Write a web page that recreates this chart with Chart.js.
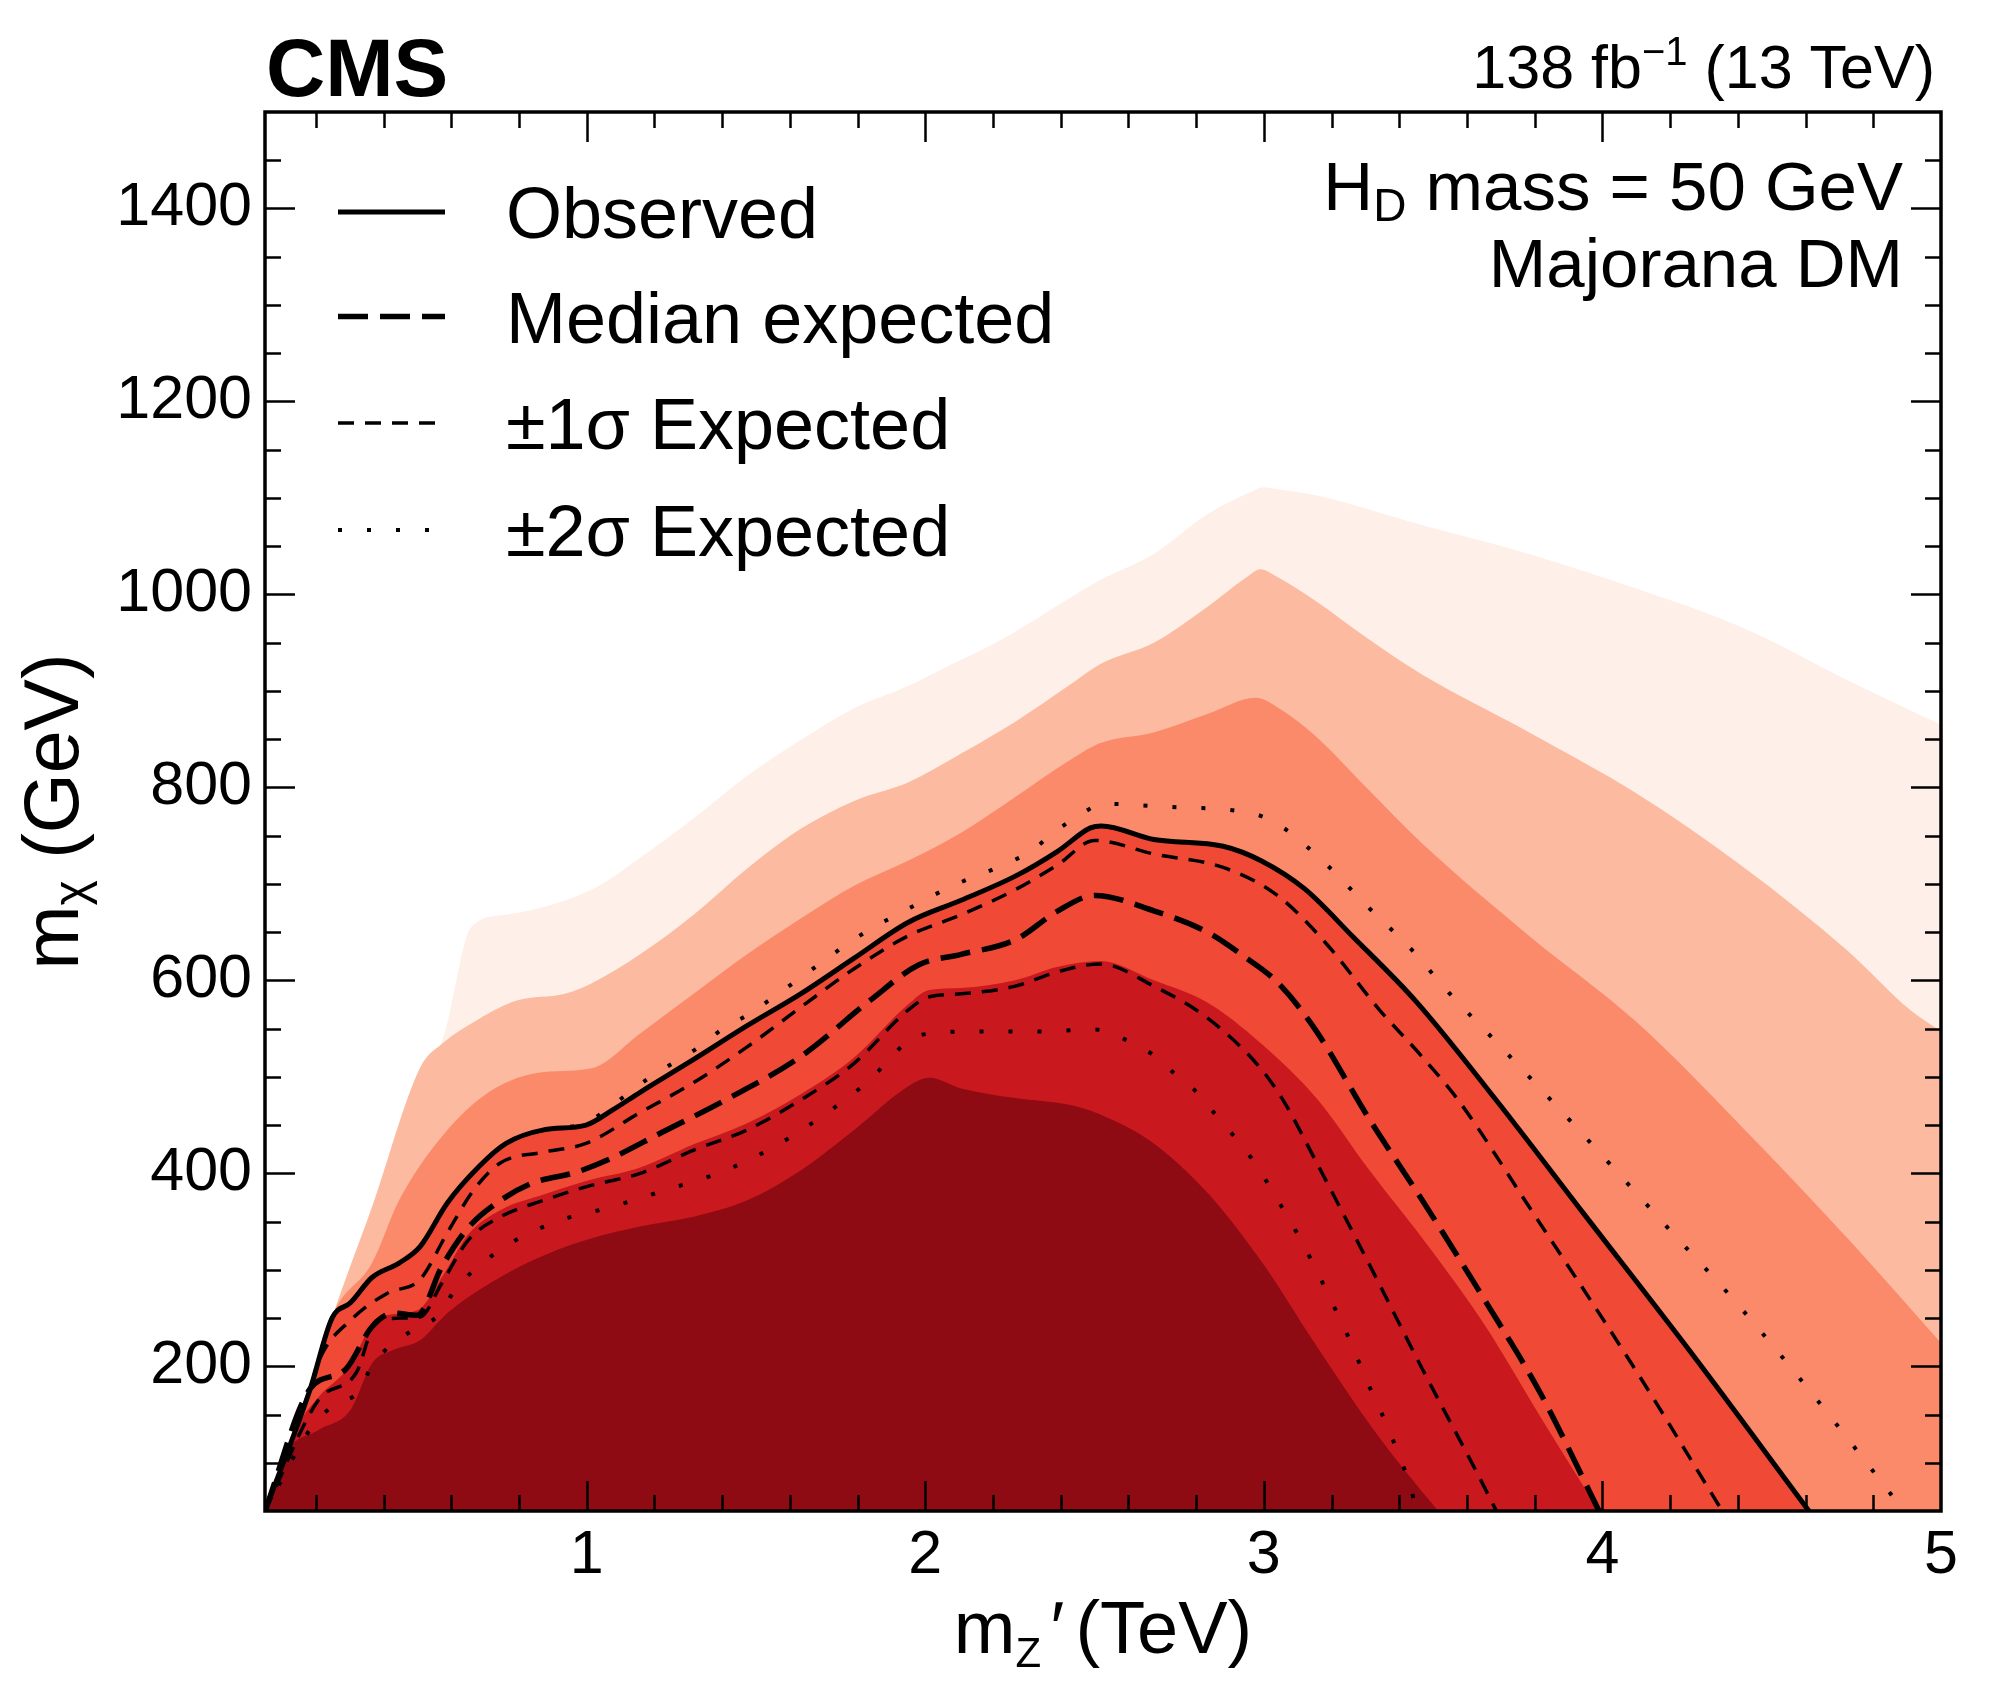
<!DOCTYPE html>
<html>
<head>
<meta charset="utf-8">
<script src="https://cdn.jsdelivr.net/npm/chart.js@4.4.1/dist/chart.umd.min.js"></script>
<style>
html,body{margin:0;padding:0;background:#ffffff;}
canvas{display:block;}
</style>
</head>
<body>
<canvas id="c" width="1997" height="1685" style="width:1997px;height:1685px"></canvas>
<script>
// ---------------- data ----------------
const xTickValues = [1, 2, 3, 4, 5];
const yTickValues = [200, 400, 600, 800, 1000, 1200, 1400];

// Observed limit
const obsX = [0.05,0.184,0.248,0.303,0.366,0.446,0.508,0.588,0.682,0.762,0.873,0.998,1.078,1.158,1.316,1.474,1.632,1.79,1.949,2.106,2.266,2.392,2.488,2.52,2.675,2.88,2.992,3.12,3.261,3.45,3.686,3.943,4.26,4.61];
const obsY = [50,177,250,266,292,307,324,369,407,431,445,450,466,484,518,553,586,623,660,683,708,734,758,760,746,739,724,695,646,578,476,359,215,50];

// Median expected
const expX = [0.05,0.184,0.286,0.366,0.43,0.5,0.572,0.651,0.746,0.841,0.968,1.063,1.22,1.41,1.632,1.84,1.98,2.106,2.266,2.392,2.5,2.675,2.833,2.945,3.04,3.15,3.31,3.468,3.657,3.817,3.99];
const expY = [50,177,196,241,255,253,303,344,372,390,401,414,442,476,521,580,616,627,642,672,688,672,650,624,598,550,457,372,266,172,50];

// +1 sigma expected
const exp1UpX = [0.05,0.184,0.208,0.31,0.413,0.508,0.588,0.667,0.746,0.873,0.998,1.158,1.316,1.474,1.632,1.79,1.949,2.106,2.266,2.392,2.5,2.675,2.88,3.04,3.182,3.34,3.467,3.574,3.784,4.1,4.354];
const exp1UpY = [50,177,205,250,276,290,338,383,411,422,431,463,494,531,572,612,646,668,694,720,745,731,717,688,639,570,521,476,365,195,50];

// -1 sigma expected
const exp1DnX = [0.05,0.208,0.319,0.382,0.508,0.572,0.651,0.746,0.873,0.998,1.158,1.316,1.474,1.632,1.79,1.949,2.012,2.106,2.266,2.392,2.517,2.675,2.833,2.99,3.06,3.15,3.308,3.467,3.626,3.687];
const exp1DnY = [50,165,193,248,251,286,331,355,372,386,400,424,445,476,514,569,583,586,594,609,617,594,561,509,474,415,308,198,92,50];

// +2 sigma expected
const exp2UpX = [0.05,0.184,0.248,0.303,0.366,0.446,0.508,0.588,0.682,0.762,0.873,0.998,1.039,1.181,1.332,1.403,1.474,1.625,1.759,1.837,1.917,2.075,2.233,2.313,2.375,2.455,2.526,2.705,2.976,3.054,3.182,3.308,3.436,3.547,3.673,3.914,4.21,4.39,4.616,4.833,4.89];
const exp2UpY = [50,177,250,266,292,307,324,369,407,431,445,452,461,498,531,550,564,601,635,653,668,697,720,734,752,771,783,780,772,759,721,676,632,587,541,451,337,268,173,76,50];

// -2 sigma expected
const exp2DnX = [0.05,0.192,0.256,0.327,0.366,0.43,0.5,0.556,0.62,0.746,0.904,1.071,1.237,1.403,1.561,1.711,1.846,1.908,1.98,2.155,2.328,2.502,2.588,2.668,2.731,2.802,2.857,2.913,2.969,3.016,3.06,3.106,3.146,3.184,3.222,3.258,3.293,3.328,3.365,3.396,3.428,3.452];
const exp2DnY = [50,139,160,174,201,224,240,251,283,321,349,365,383,402,429,463,500,524,543,547,547,549,539,524,505,484,461,438,413,387,361,333,306,279,251,224,194,166,138,110,81,50];

// Filled contour bands (upper edge of each nested coloured region)
const bandAX = [0.05,0.184,0.248,0.366,0.509,0.572,0.659,0.762,0.904,1.031,1.158,1.316,1.474,1.632,1.79,1.949,2.075,2.224,2.517,2.675,2.833,2.96,3.0,3.04,3.15,3.467,3.784,4.1,4.418,4.736,5.0];
const bandAY = [50,177,250,365,510,536,655,668,679,697,727,768,812,849,882,905,927,953,1015,1042,1083,1106,1111,1109,1103,1072,1042,1006,965,909,865];

const bandBX = [0.05,0.184,0.248,0.366,0.509,0.572,0.682,0.794,0.936,1.015,1.158,1.316,1.474,1.632,1.79,1.949,2.106,2.266,2.422,2.517,2.675,2.833,2.95,2.99,3.04,3.15,3.308,3.467,3.784,4.1,4.418,4.72,4.91,5.0];
const bandBY = [50,177,250,365,510,534,560,579,586,597,627,668,716,757,786,805,835,868,905,928,950,987,1018,1026,1018,994,954,917,857,794,717,632,569,547];

const bandCX = [0.05,0.184,0.248,0.366,0.446,0.572,0.715,0.873,1.015,1.158,1.316,1.474,1.632,1.79,1.949,2.106,2.266,2.422,2.517,2.675,2.833,2.976,3.054,3.15,3.308,3.467,3.784,4.1,4.418,4.736,5.0];
const bandCY = [50,177,252,307,372,438,485,505,509,545,586,627,664,698,724,753,790,827,846,857,876,893,880,854,798,742,646,557,446,328,224];

const bandEX = [0.05,0.15,0.208,0.3,0.382,0.5,0.572,0.651,0.746,0.873,0.998,1.158,1.316,1.474,1.632,1.79,1.949,2.012,2.106,2.266,2.392,2.517,2.675,2.833,2.99,3.16,3.308,3.5,3.65,3.818,3.99];
const bandEY = [50,140,168,200,250,258,292,337,362,378,392,406,430,452,482,520,575,590,592,600,614,620,600,577,535,476,405,318,244,147,50];

const bandFX = [0.05,0.112,0.208,0.303,0.366,0.43,0.508,0.588,0.682,0.841,0.998,1.158,1.316,1.474,1.632,1.79,1.949,2.012,2.106,2.266,2.424,2.517,2.675,2.833,2.992,3.15,3.308,3.403,3.515];
const bandFY = [50,110,134,155,203,217,227,255,279,310,331,345,355,372,403,445,490,499,488,478,471,461,431,380,309,224,142,98,50];

const legendLabels = ['Observed', 'Median expected', '\u00b11\u03c3 Expected', '\u00b12\u03c3 Expected'];
const bandColors = ['#fef0e9', '#fcbba1', '#fb8a6b', '#f04a36', '#c9181e', '#8e0b13'];

// ---------------- helpers ----------------
const pts = (xs, ys) => xs.map((x, i) => ({x: x, y: ys[i]}));
const FONT = '"Liberation Sans", Helvetica, Arial, sans-serif';
const font = (size, bold) => (bold ? 'bold ' : '') + size + 'px ' + FONT;

function band(xs, ys, color, order) {
  return {
    data: pts(xs, ys), backgroundColor: color, borderColor: color, borderWidth: 0,
    fill: 'start', pointRadius: 0, cubicInterpolationMode: 'monotone', order: order
  };
}
function line(xs, ys, width, dash, order, label) {
  return {
    label: label, data: pts(xs, ys), borderColor: '#000000', borderWidth: width,
    borderDash: dash, fill: false, pointRadius: 0, cubicInterpolationMode: 'monotone', order: order
  };
}

const datasets = [
  band(bandAX, bandAY, bandColors[0], 15),
  band(bandBX, bandBY, bandColors[1], 14),
  band(bandCX, bandCY, bandColors[2], 13),
  band(obsX, obsY, bandColors[3], 12),
  band(bandEX, bandEY, bandColors[4], 11),
  band(bandFX, bandFY, bandColors[5], 10),
  line(exp2UpX, exp2UpY, 4, [4, 25], 4, legendLabels[3]),
  line(exp2DnX, exp2DnY, 4, [4, 25], 4, legendLabels[3]),
  line(exp1UpX, exp1UpY, 3.5, [16, 11], 3, legendLabels[2]),
  line(exp1DnX, exp1DnY, 3.5, [16, 11], 3, legendLabels[2]),
  line(expX, expY, 5.5, [30, 12], 2, legendLabels[1]),
  line(obsX, obsY, 5, [], 1, legendLabels[0])
];
const legendDatasetIndex = [11, 10, 8, 6];

// ---------------- decorations plugin ----------------
function pieceAdvance(ctx, p) {
  ctx.font = font(p.size, p.bold);
  return (p.adv !== undefined) ? p.adv : ctx.measureText(p.text).width;
}
function drawPieces(ctx, pieces, startX, baseY) {
  let xpos = startX;
  for (const p of pieces) {
    const adv = pieceAdvance(ctx, p);
    ctx.font = font(p.size, p.bold);
    ctx.fillText(p.text, xpos + (p.off || 0), baseY + (p.dy || 0));
    xpos += adv;
  }
  return xpos;
}
function piecesWidth(ctx, pieces) {
  let w = 0;
  for (const p of pieces) w += pieceAdvance(ctx, p);
  return w;
}

const decor = {
  id: 'decor',
  afterDraw(chart) {
    const ctx = chart.ctx;
    const a = chart.chartArea;
    const xs = chart.scales.x, ys = chart.scales.y;
    ctx.save();
    ctx.setLineDash([]);
    ctx.strokeStyle = '#000';
    ctx.fillStyle = '#000';

    // inward ticks, on all four sides
    ctx.lineWidth = 2.5;
    ctx.beginPath();
    for (let k = 1; k < 25; k++) {
      const v = k * 0.2;
      if (v < xs.min) continue;
      const px = Math.round(xs.getPixelForValue(v)) + 0.5;
      const len = (k % 5 === 0) ? 30 : 16;
      ctx.moveTo(px, a.bottom); ctx.lineTo(px, a.bottom - len);
      ctx.moveTo(px, a.top); ctx.lineTo(px, a.top + len);
    }
    for (let v = 100; v < 1500; v += 50) {
      const py = Math.round(ys.getPixelForValue(v)) + 0.5;
      const len = (v % 200 === 0) ? 30 : 16;
      ctx.moveTo(a.left, py); ctx.lineTo(a.left + len, py);
      ctx.moveTo(a.right, py); ctx.lineTo(a.right - len, py);
    }
    ctx.stroke();

    // frame
    ctx.lineWidth = 3.5;
    ctx.strokeRect(a.left, a.top, a.right - a.left, a.bottom - a.top);

    // legend
    const legendYs = [212, 316.5, 423, 530];
    ctx.textAlign = 'left';
    ctx.textBaseline = 'alphabetic';
    legendDatasetIndex.forEach((di, i) => {
      const ds = chart.data.datasets[di];
      ctx.lineWidth = ds.borderWidth;
      ctx.setLineDash(ds.borderDash || []);
      ctx.beginPath();
      ctx.moveTo(338, legendYs[i]);
      ctx.lineTo(445, legendYs[i]);
      ctx.stroke();
      ctx.setLineDash([]);
      ctx.font = font(72);
      ctx.fillText(ds.label, 506, legendYs[i] + 26);
    });

    // CMS
    ctx.font = font(82, true);
    ctx.fillText('CMS', 266, 96);

    // luminosity label (right aligned)
    const lumi = [
      {text: '138 fb', size: 61},
      {text: '\u22121', size: 40, dy: -23},
      {text: ' (13 TeV)', size: 61}
    ];
    drawPieces(ctx, lumi, 1935 - piecesWidth(ctx, lumi), 88);

    // model text
    const hd = [
      {text: 'H', size: 69},
      {text: 'D', size: 46, dy: 11},
      {text: ' mass = 50 GeV', size: 69}
    ];
    drawPieces(ctx, hd, 1903 - piecesWidth(ctx, hd), 210);
    ctx.font = font(69);
    ctx.textAlign = 'right';
    ctx.fillText('Majorana DM', 1903, 287);
    ctx.textAlign = 'left';

    // x axis title
    const xt = [
      {text: 'm', size: 74},
      {text: 'Z', size: 42, dy: 14, adv: 33},
      {text: '\u2032', size: 74, adv: 27, off: 2},
      {text: '(TeV)', size: 74}
    ];
    const cx = (a.left + a.right) / 2;
    drawPieces(ctx, xt, cx - piecesWidth(ctx, xt) / 2, 1653);

    // y axis title (rotated)
    const yt = [
      {text: 'm', size: 77},
      {text: '\u03c7', size: 48, dy: 9},
      {text: ' (GeV)', size: 77}
    ];
    const cy = (a.top + a.bottom) / 2;
    ctx.save();
    ctx.translate(78, cy);
    ctx.rotate(-Math.PI / 2);
    drawPieces(ctx, yt, -piecesWidth(ctx, yt) / 2, 0);
    ctx.restore();

    ctx.restore();
  }
};

// ---------------- chart ----------------
const tickFont = {family: FONT, size: 61};
new Chart(document.getElementById('c').getContext('2d'), {
  type: 'line',
  data: {datasets: datasets},
  options: {
    responsive: false,
    animation: false,
    devicePixelRatio: 1,
    layout: {padding: {top: 112, right: 56, left: 0, bottom: 0}},
    plugins: {legend: {display: false}, tooltip: {enabled: false}},
    elements: {line: {borderJoinStyle: 'round'}},
    scales: {
      x: {
        type: 'linear', min: 0.05, max: 5,
        grid: {display: false, drawTicks: false},
        border: {display: false},
        ticks: {color: '#000', font: tickFont, padding: 9, maxRotation: 0, autoSkip: false,
                callback: (v) => String(v)},
        afterBuildTicks: (s) => { s.ticks = xTickValues.map(v => ({value: v})); },
        afterFit: (s) => { s.height = 174; }
      },
      y: {
        type: 'linear', min: 50, max: 1500,
        grid: {display: false, drawTicks: false},
        border: {display: false},
        ticks: {color: '#000', font: tickFont, padding: 13, autoSkip: false,
                callback: (v) => String(v)},
        afterBuildTicks: (s) => { s.ticks = yTickValues.map(v => ({value: v})); },
        afterFit: (s) => { s.width = 265; }
      }
    }
  },
  plugins: [decor]
});
</script>
</body>
</html>
